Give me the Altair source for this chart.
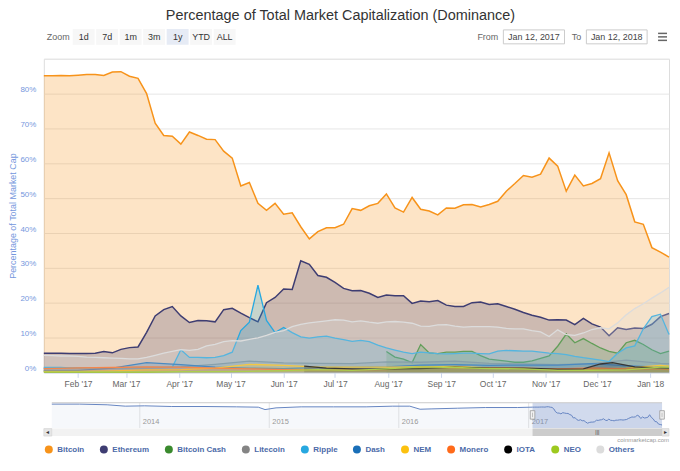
import altair as alt
import pandas as pd

START = pd.Timestamp("2017-01-12")
END = pd.Timestamp("2018-01-12")

series_names = ["Bitcoin", "Ethereum", "Bitcoin Cash", "Litecoin", "Ripple", "Dash",
                "NEM", "Monero", "IOTA", "NEO", "Others"]
series_colors = ["#f7931a", "#3e3d72", "#3a8a2e", "#848484", "#27a8e0", "#1a6fb8",
                 "#fcc10f", "#ff6a1a", "#000000", "#9dc91f", "#dcdcdc"]

# sampling days (days after Jan 12, 2017)
days_5 = list(range(0, 366, 5))
days_20 = list(range(0, 361, 20)) + [365]
bch_days = list(range(200, 366, 5))
iota_days = [152, 165, 180, 200, 220, 240, 260, 280, 300, 315, 325, 332, 345, 360, 365]

bitcoin = [85.1, 85.1, 85.2, 85.1, 85.3, 85.5, 85.5, 85.2, 86.2, 86.3, 85.0, 84.4, 80.0, 71.5,
           68.0, 67.8, 65.5, 69.0, 68.0, 66.9, 66.8, 63.5, 61.5, 53.5, 54.5, 48.5, 46.5, 48.5,
           45.4, 45.8, 41.8, 38.3, 40.4, 41.5, 41.5, 42.5, 47.0, 46.5, 47.8, 48.5, 51.2, 47.2,
           46.0, 50.2, 46.8, 46.3, 45.2, 47.2, 47.1, 48.1, 48.2, 47.5, 48.2, 49.1, 52.0, 54.2,
           56.5, 56.0, 56.9, 61.5, 59.2, 52.0, 56.6, 53.5, 54.2, 55.6, 63.0, 55.0, 51.0, 43.2,
           42.5, 35.8, 34.5, 33.1]
ethereum = [5.5, 5.5, 5.5, 5.4, 5.4, 5.4, 5.5, 6.0, 5.6, 6.6, 7.1, 7.3, 11.5, 16.2,
            18.0, 18.9, 16.2, 14.3, 14.9, 14.8, 14.5, 18.0, 18.4, 17.0, 15.7, 14.5, 20.0, 21.5,
            23.9, 23.8, 32.0, 31.0, 27.8, 27.3, 25.8, 24.1, 23.4, 23.5, 22.7, 21.5, 22.2, 22.0,
            22.0, 19.8, 20.5, 20.3, 20.6, 19.3, 18.9, 18.9, 20.0, 20.2, 19.5, 19.7, 18.9, 18.1,
            17.2, 16.4, 15.8, 15.0, 15.1, 15.0, 13.7, 15.5, 13.9, 13.0, 10.5, 12.8, 12.3, 12.7,
            12.6, 13.8, 16.0, 16.9]
ripple = [1.4, 1.4, 1.4, 1.3, 1.3, 1.3, 1.3, 1.3, 1.3, 1.3, 1.4, 1.4, 1.4, 1.4,
          1.4, 1.5, 6.5, 4.3, 4.3, 4.2, 4.3, 4.8, 5.8, 12.0, 14.4, 25.0, 14.9, 11.4,
          12.9, 11.4, 10.2, 9.8, 10.2, 10.4, 9.8, 9.4, 8.9, 9.2, 8.8, 7.8, 7.0, 6.4,
          5.8, 5.4, 5.8, 5.6, 5.4, 5.3, 5.4, 5.5, 5.5, 5.4, 5.3, 6.1, 6.3, 6.2,
          6.1, 6.1, 5.8, 5.5, 5.4, 5.1, 4.6, 4.2, 3.9, 3.5, 3.1, 5.5, 7.0, 7.6,
          12.5, 16.0, 16.7, 10.9]
others = [4.9, 4.8, 4.7, 4.7, 4.6, 4.4, 4.3, 4.2, 4.1, 4.0, 3.9, 3.9, 4.3, 4.9,
          5.5, 6.0, 6.5, 6.3, 6.6, 7.6, 8.0, 8.8, 9.1, 9.0, 9.5, 9.9, 10.6, 11.5,
          12.0, 13.1, 13.8, 14.2, 14.5, 14.8, 15.1, 15.0, 14.5, 14.8, 14.4, 14.1, 14.5, 14.6,
          14.4, 14.1, 13.3, 13.2, 13.6, 13.7, 13.3, 13.0, 13.1, 13.1, 13.1, 13.0, 12.6, 12.5,
          12.5, 12.0, 11.6, 10.3, 12.2, 10.8, 10.6, 11.3, 12.3, 12.8, 12.5, 14.2, 16.5, 18.3,
          19.7, 21.3, 22.8, 24.4]
bitcoin_cash = [6.0, 4.4, 3.8, 2.8, 8.0, 5.6, 5.4, 5.8, 5.8, 6.0, 6.0, 4.8, 3.8, 3.5,
                3.2, 2.9, 2.9, 3.3, 4.0, 4.7, 7.5, 11.0, 8.5, 9.7, 8.3, 7.0, 6.0, 5.5,
                8.5, 9.2, 8.0, 6.5, 5.4, 6.1]
litecoin = [1.2, 1.2, 1.2, 1.3, 1.6, 2.3, 3.2, 2.7, 2.6, 2.5, 3.0, 2.9, 3.2, 2.6, 2.4, 2.2, 2.5, 3.5, 2.6, 2.5]
dash = [0.6, 0.6, 1.2, 2.8, 2.2, 1.5, 1.2, 1.1, 1.4, 1.4, 1.6, 2.1, 2.2, 2.0, 2.1, 2.1, 2.5, 1.9, 1.4, 1.3]
nem = [0.3, 0.3, 0.4, 0.7, 0.8, 1.2, 2.3, 2.0, 1.5, 1.5, 1.5, 1.6, 1.7, 1.3, 1.1, 1.0, 0.9, 1.2, 2.0, 1.8]
monero = [1.1, 1.3, 1.4, 1.6, 1.5, 1.2, 1.0, 0.8, 0.7, 0.7, 0.8, 1.5, 1.3, 1.2, 1.2, 1.0, 1.3, 1.0, 0.9, 0.8]
neo = [0.1, 0.1, 0.1, 0.1, 0.2, 0.2, 0.3, 0.5, 0.8, 0.6, 1.0, 1.6, 1.4, 1.1, 1.0, 0.6, 0.6, 0.7, 1.5, 1.5]
iota = [1.8, 1.2, 1.0, 0.9, 1.1, 1.5, 1.2, 1.2, 0.9, 1.0, 2.4, 2.8, 1.6, 1.3, 1.2]

# navigator history (Bitcoin dominance before the selected range)
nav_hist_dates = ["2013-04-28", "2013-07-15", "2013-10-01", "2013-11-21", "2014-01-15", "2014-04-01",
                  "2014-07-01", "2014-10-01", "2014-12-01", "2014-12-20", "2015-01-20", "2015-04-01",
                  "2015-07-01", "2015-10-01", "2015-12-15", "2016-02-01", "2016-03-01", "2016-04-01",
                  "2016-06-15", "2016-09-01", "2016-12-01"]
nav_hist_values = [94, 94, 92, 88, 89, 87, 87, 86, 85, 78, 83, 86, 86, 86, 88, 88, 79, 80, 82, 84, 84]
nav_years = ["2014", "2015", "2016", "2017"]

zoom_buttons = ["1d", "7d", "1m", "3m", "1y", "YTD", "ALL"]
selected_button = "1y"

# ---------------- data tables ----------------
series_data = {
    "Bitcoin": (days_5, bitcoin),
    "Ethereum": (days_5, ethereum),
    "Bitcoin Cash": (bch_days, bitcoin_cash),
    "Litecoin": (days_20, litecoin),
    "Ripple": (days_5, ripple),
    "Dash": (days_20, dash),
    "NEM": (days_20, nem),
    "Monero": (days_20, monero),
    "IOTA": (iota_days, iota),
    "NEO": (days_20, neo),
    "Others": (days_5, others),
}

def frame(name):
    d, v = series_data[name]
    return pd.DataFrame({"series": name,
                         "date": [START + pd.Timedelta(days=k) for k in d],
                         "value": v})

FONT = "Liberation Sans"
W, H = 628, 315
HY = -22      # header row centre, relative to plot top
NT, NB = 345.5, 371   # navigator top / bottom, relative to plot top
SB = 379      # scrollbar bottom

color_enc = alt.Color(
    "series:N", title=None,
    scale=alt.Scale(domain=series_names, range=series_colors),
    legend=alt.Legend(orient="none", legendX=1, legendY=388.5, direction="horizontal",
                      columns=11, symbolType="circle", symbolSize=64, symbolOpacity=1,
                      symbolStrokeWidth=0, labelFontSize=8, labelFontWeight="bold",
                      labelColor="#4b6aa8", labelFont=FONT, columnPadding=15.3,
                      labelOffset=4.5),
)
x_enc = alt.X(
    "date:T", title=None,
    scale=alt.Scale(domain=[alt.DateTime(year=2017, month=1, date=12),
                            alt.DateTime(year=2018, month=1, date=12)]),
    axis=alt.Axis(values=[alt.DateTime(year=2017 + (m // 12), month=(m % 12) + 1, date=1)
                          for m in range(1, 13)],
                  format="%b '%y", grid=False, domainColor="#ccd6eb", tickColor="#ccd6eb",
                  tickSize=5, labelPadding=2, labelFontSize=8.5, labelColor="#666666",
                  labelFont=FONT),
)
y_enc = alt.Y(
    "value:Q", title="Percentage of Total Market Cap",
    scale=alt.Scale(domain=[0, 90], nice=False),
    axis=alt.Axis(values=list(range(0, 91, 10)),
                  labelExpr="datum.value >= 90 ? '' : datum.value + '%'",
                  ticks=False, domain=False, gridColor="#e6e6e6", labelPadding=8,
                  labelBaseline="bottom", labelFontSize=8, labelColor="#7597dd",
                  labelFont=FONT, titleColor="#7597dd", titleFontSize=9,
                  titleFontWeight="normal", titleFont=FONT, titlePadding=2),
)

main_layers = []
for name in series_names:
    df = frame(name)
    main_layers.append(alt.Chart(df).mark_area(fillOpacity=0.25, interpolate="linear")
                       .encode(x=x_enc, y=y_enc, color=color_enc))
    main_layers.append(alt.Chart(df).mark_line(strokeWidth=1.5 if name in ("Bitcoin", "Ethereum") else 1.3)
                       .encode(x=x_enc, y=y_enc, color=color_enc))
main = alt.layer(*main_layers)

# ---------------- navigator ----------------
nav_df = pd.concat([
    pd.DataFrame({"date": pd.to_datetime(nav_hist_dates), "value": nav_hist_values}),
    frame("Bitcoin")[["date", "value"]],
], ignore_index=True)
nav_scale = alt.Scale(domain=[alt.DateTime(year=2013, month=4, date=28),
                              alt.DateTime(year=2018, month=1, date=12)],
                      range=[8, 621])
nav_x = alt.X("date:T", axis=None, scale=nav_scale)
nav_y = alt.Y("value:Q", axis=None,
              scale=alt.Scale(domain=[24, 98], range=[NB, NT], zero=False, nice=False))

one = pd.DataFrame({"k": [0]})
years_df = pd.DataFrame({"date": pd.to_datetime([y + "-01-01" for y in nav_years]),
                         "label": nav_years})
sel_df = pd.DataFrame({"start": [START], "end": [END]})
edges_df = pd.DataFrame({"date": [START, END]})
mid_df = pd.DataFrame({"date": [START + (END - START) / 2]})

nav = alt.layer(
    alt.Chart(years_df).mark_rule(color="#e6e6e6", strokeWidth=1).encode(
        x=nav_x, y=alt.value(NT), y2=alt.value(NB)),
    alt.Chart(nav_df).mark_area(color="#6685c2", fillOpacity=0.06).encode(
        x=nav_x, y=nav_y, y2=alt.datum(24)),
    alt.Chart(nav_df).mark_line(color="#6685c2", strokeWidth=1).encode(x=nav_x, y=nav_y),
    alt.Chart(years_df).mark_text(align="left", dx=3, fontSize=7.5, color="#999999", font=FONT).encode(
        x=nav_x, y=alt.value(NB - 6), text="label:N"),
    alt.Chart(sel_df).mark_rect(color="#6685c2", opacity=0.3).encode(
        x=alt.X("start:T", scale=nav_scale, axis=None), x2="end:T",
        y=alt.value(NT), y2=alt.value(NB)),
    alt.Chart(one).mark_rule(color="#cccccc", strokeWidth=1).encode(
        x=alt.value(8), x2=alt.value(621), y=alt.value(NT)),
    # scrollbar
    alt.Chart(one).mark_rect(color="#f2f2f2").encode(
        x=alt.value(0), x2=alt.value(628), y=alt.value(NB + 0.5), y2=alt.value(SB)),
    alt.Chart(sel_df).mark_rect(color="#cccccc").encode(
        x=alt.X("start:T", scale=nav_scale, axis=None), x2="end:T",
        y=alt.value(NB + 0.5), y2=alt.value(SB)),
    alt.Chart(one).mark_rect(fill="#e6e6e6", stroke="#cccccc", strokeWidth=0.5).encode(
        x=alt.value(0), x2=alt.value(8), y=alt.value(NB + 0.5), y2=alt.value(SB)),
    alt.Chart(one).mark_rect(fill="#e6e6e6", stroke="#cccccc", strokeWidth=0.5).encode(
        x=alt.value(621), x2=alt.value(628), y=alt.value(NB + 0.5), y2=alt.value(SB)),
    alt.Chart(pd.DataFrame({"t": ["\u25c2"]})).mark_text(fontSize=6, color="#333333").encode(
        x=alt.value(4), y=alt.value((NB + SB) / 2), text="t:N"),
    alt.Chart(pd.DataFrame({"t": ["\u25b8"]})).mark_text(fontSize=6, color="#333333").encode(
        x=alt.value(624.5), y=alt.value((NB + SB) / 2), text="t:N"),
    alt.Chart(mid_df).mark_text(text="|||", fontSize=5, color="#333333").encode(
        x=nav_x, y=alt.value((NB + SB) / 2)),
    # handles
    alt.Chart(edges_df).mark_rect(fill="#f2f2f2", stroke="#999999", strokeWidth=0.8,
                                  xOffset=-2.3, x2Offset=2.3).encode(
        x=nav_x, x2="date:T", y=alt.value(NT + 8), y2=alt.value(NT + 16.5)),
    alt.Chart(edges_df).mark_rule(color="#999999", strokeWidth=0.6).encode(
        x=nav_x, y=alt.value(NT + 10), y2=alt.value(NT + 14.5)),
)

# ---------------- range selector header ----------------
btn_df = pd.DataFrame({"label": zoom_buttons, "i": list(range(len(zoom_buttons)))})
btn_base = alt.Chart(btn_df).transform_calculate(
    px="40 + 23.6 * datum.i", x0="datum.px - 11", x1="datum.px + 11")
header = alt.layer(
    alt.Chart(pd.DataFrame({"t": ["Zoom"]})).mark_text(
        align="left", baseline="middle", fontSize=9, color="#666666", font=FONT).encode(
        x=alt.value(3), y=alt.value(HY), text="t:N"),
    btn_base.mark_rect().encode(
        x=alt.X("x0:Q", scale=None), x2="x1:Q", y=alt.value(HY - 8), y2=alt.value(HY + 8),
        fill=alt.condition(alt.datum.label == selected_button,
                           alt.value("#e6ebf5"), alt.value("#f7f7f7"))),
    btn_base.mark_text(baseline="middle", fontSize=9, color="#333333", font=FONT).encode(
        x=alt.X("px:Q", scale=None), y=alt.value(HY), text="label:N"),
    alt.Chart(pd.DataFrame({"t": ["From"]})).mark_text(
        baseline="middle", fontSize=9, color="#666666", font=FONT).encode(
        x=alt.value(446), y=alt.value(HY), text="t:N"),
    alt.Chart(pd.DataFrame({"t": ["To"]})).mark_text(
        baseline="middle", fontSize=9, color="#666666", font=FONT).encode(
        x=alt.value(535), y=alt.value(HY), text="t:N"),
    alt.Chart(one).mark_rect(fill="white", stroke="#cccccc", strokeWidth=1).encode(
        x=alt.value(461.6), x2=alt.value(523), y=alt.value(HY - 7), y2=alt.value(HY + 7)),
    alt.Chart(one).mark_rect(fill="white", stroke="#cccccc", strokeWidth=1).encode(
        x=alt.value(545), x2=alt.value(606), y=alt.value(HY - 7), y2=alt.value(HY + 7)),
    alt.Chart(pd.DataFrame({"t": [f"{START:%b} {START.day}, {START.year}"]})).mark_text(
        baseline="middle", fontSize=9, color="#444444", font=FONT).encode(
        x=alt.value(492.3), y=alt.value(HY), text="t:N"),
    alt.Chart(pd.DataFrame({"t": [f"{END:%b} {END.day}, {END.year}"]})).mark_text(
        baseline="middle", fontSize=9, color="#444444", font=FONT).encode(
        x=alt.value(575.5), y=alt.value(HY), text="t:N"),
    alt.Chart(pd.DataFrame({"i": [0, 1, 2]})).transform_calculate(yy=f"{HY - 3.5} + 3.5 * datum.i")
    .mark_rule(color="#666666", strokeWidth=1.5).encode(
        x=alt.value(617), x2=alt.value(626), y=alt.Y("yy:Q", scale=None)),
)

credit = alt.Chart(pd.DataFrame({"t": ["coinmarketcap.com"]})).mark_text(
    align="right", baseline="middle", fontSize=6, color="#999999", font=FONT).encode(
    x=alt.value(628), y=alt.value(SB + 3.8), text="t:N")

chart = alt.layer(main, nav, header, credit).resolve_scale(
    x="independent", y="independent"
).properties(
    width=W, height=H,
    padding={"top": -1, "left": 0, "right": 0, "bottom": 0},
    title=alt.TitleParams(text="Percentage of Total Market Capitalization (Dominance)",
                          fontSize=14.5, font=FONT, fontWeight="normal", color="#333333",
                          offset=5, anchor="middle", frame="bounds"),
).configure_view(strokeWidth=0).configure(font=FONT)

chart.save("out.html", embed_options={"renderer": "svg", "actions": False})
